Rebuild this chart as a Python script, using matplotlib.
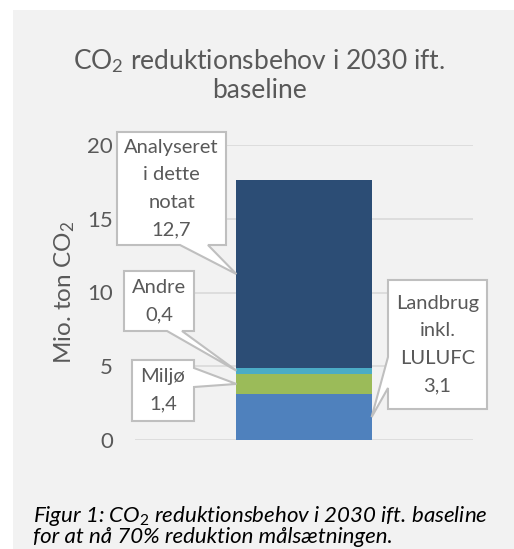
import matplotlib.pyplot as plt
from matplotlib.patches import Polygon, Rectangle

# data
categories = ["Landbrug inkl.\nLULUFC", "Miljø", "Andre", "Analyseret\ni dette\nnotat"]
values = [3.1, 1.4, 0.4, 12.7]
value_labels = ["3,1", "1,4", "0,4", "12,7"]
colors = ["#4F81BD", "#9BBB59", "#4BACC6", "#2C4D75"]
yticks = [0, 5, 10, 15, 20]

W, H = 514, 549
FONT = "Lato"
TXT = "#595959"

plt.rcParams["mathtext.fontset"] = "custom"
plt.rcParams["mathtext.rm"] = FONT
plt.rcParams["mathtext.it"] = FONT + ":italic"

fig = plt.figure(figsize=(W / 100, H / 100), dpi=100, facecolor="white")
fig.add_artist(Rectangle((13 / W, 0), (W - 13) / W, (H - 10) / H,
                         transform=fig.transFigure, facecolor="#F2F2F2",
                         edgecolor="none", zorder=-10))

# plot area in pixels: x 135..473, y 145..440
ax = fig.add_axes([135 / W, (H - 440) / H, 338 / W, 295 / H])
ax.set_facecolor("none")
ax.set_xlim(-0.5, 0.5)
ax.set_ylim(0, 20)

bar_w = 0.4
bottom = 0
mids = []
for v, c in zip(values, colors):
    ax.bar(0, v, bottom=bottom, width=bar_w, color=c, zorder=3)
    mids.append(bottom + v / 2)
    bottom += v

ax.set_yticks(yticks)
ax.set_yticklabels([str(t) for t in yticks], fontsize=16, color=TXT, family=FONT)
ax.set_xticks([])
ax.tick_params(axis="y", length=0, pad=16)
ax.grid(axis="y", color="#D9D9D9", linewidth=1.2, zorder=0)
for s in ax.spines.values():
    s.set_visible(False)
ax.set_ylabel("Mio. ton CO$_\\mathrm{2}$", fontsize=17.5, color=TXT, family=FONT, labelpad=7)

fig.text(259 / W, 1 - 75 / H, "CO$_\\mathrm{2}$ reduktionsbehov i 2030 ift.\nbaseline",
         ha="center", va="center", fontsize=19, color=TXT, family=FONT,
         linespacing=1.12)
fig.text(33 / W, 1 - 543 / H, "Figur 1: CO$_\\mathit{2}$ reduktionsbehov i 2030 ift. baseline\n"
         "for at nå 70% reduktion målsætningen.",
         ha="left", va="baseline", fontsize=16, style="italic", color="black",
         family=FONT, linespacing=0.95)


def to_fig(px, py):
    return px / W, 1 - py / H


def callout(text, anchor, box, side, base):
    # anchor in data coords, box (left, top, right, bottom) in pixels
    disp = ax.transData.transform(anchor)
    tip = fig.transFigure.inverted().transform(disp)
    L, T, R, B = box
    b1, b2 = base
    if side == "bottom":
        pts = [to_fig(L, T), to_fig(R, T), to_fig(R, B), to_fig(b2, B), tip,
               to_fig(b1, B), to_fig(L, B)]
    elif side == "right":
        pts = [to_fig(L, T), to_fig(R, T), to_fig(R, b1), tip, to_fig(R, b2),
               to_fig(R, B), to_fig(L, B)]
    else:
        pts = [to_fig(L, T), to_fig(R, T), to_fig(R, B), to_fig(L, B),
               to_fig(L, b2), tip, to_fig(L, b1)]
    fig.add_artist(Polygon(pts, closed=True, transform=fig.transFigure,
                           facecolor="white", edgecolor="#BFBFBF", linewidth=1.5,
                           zorder=5))
    cx, cy = to_fig((L + R) / 2, (T + B) / 2)
    fig.text(cx, cy, text, ha="center", va="center", fontsize=14.5, color=TXT,
             family=FONT, linespacing=1.75, zorder=6)


left_edge = -bar_w / 2
right_edge = bar_w / 2
callout(categories[3] + "\n" + value_labels[3], (left_edge, mids[3]),
        (117, 132, 226, 245), "bottom", (180, 208))
callout(categories[2] + "\n" + value_labels[2], (left_edge, mids[2]),
        (124, 271, 194, 331), "bottom", (167, 182))
callout(categories[1] + "\n" + value_labels[1], (left_edge, mids[1]),
        (132, 360, 194, 421), "right", (368, 387))
callout(categories[0].replace(" ", "\n") + "\n" + value_labels[0], (right_edge, mids[0]),
        (388, 280, 487, 409), "left", (357, 388))

fig.savefig("out.png", dpi=100, facecolor="white")
